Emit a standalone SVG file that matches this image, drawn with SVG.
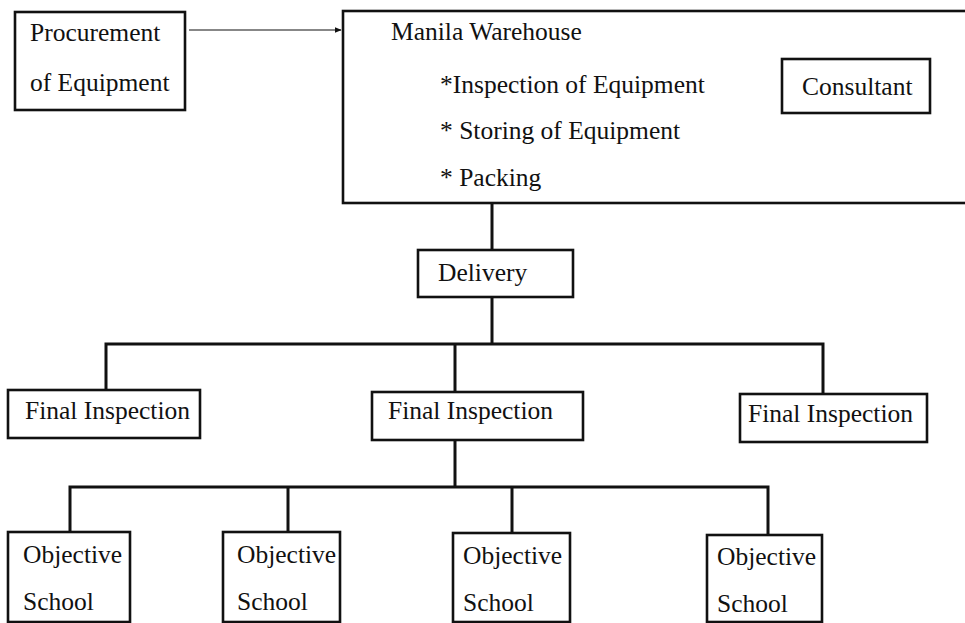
<svg xmlns="http://www.w3.org/2000/svg" width="965" height="623" viewBox="0 0 965 623">
<defs>
<style>
.box{fill:#fff;stroke:#111;stroke-width:2.6}
.t{font-family:"Liberation Serif","Times New Roman",serif;font-size:25.5px;fill:#111}
.c{fill:none;stroke:#111;stroke-width:3}
.a{fill:none;stroke:#111;stroke-width:1.2}
</style>
<marker id="ah" viewBox="0 0 10 10" refX="9" refY="5" markerWidth="7" markerHeight="7" markerUnits="userSpaceOnUse" orient="auto">
<path d="M0,1 L10,5 L0,9 z" fill="#111"/>
</marker>
</defs>
<rect width="965" height="623" fill="#fff"/>
<g id="connectors">
<line class="a" x1="189" y1="30" x2="341" y2="30" marker-end="url(#ah)"/>
<path class="c" d="M492,203 V250"/>
<path class="c" d="M492,297 V344"/>
<path class="c" d="M106,390 V344 H823 V394"/>
<path class="c" d="M455,344 V392"/>
<path class="c" d="M455,440 V487"/>
<path class="c" d="M70,532 V487 H768 V535"/>
<path class="c" d="M288,487 V532"/>
<path class="c" d="M512,487 V533"/>
</g>
<g id="procurement">
<rect class="box" x="15" y="12" width="170" height="98"/>
<text class="t" x="30" y="41">Procurement</text>
<text class="t" x="30" y="91">of Equipment</text>
</g>
<g id="manila-warehouse">
<rect class="box" x="343" y="11" width="630" height="192"/>
<text class="t" x="391" y="40">Manila Warehouse</text>
<text class="t" x="440" y="93">*Inspection of Equipment</text>
<text class="t" x="440" y="139">* Storing of Equipment</text>
<text class="t" x="440" y="186">* Packing</text>
</g>
<g id="consultant">
<rect class="box" x="782" y="59" width="148" height="54"/>
<text class="t" x="802" y="95">Consultant</text>
</g>
<g id="delivery">
<rect class="box" x="418" y="250" width="155" height="47"/>
<text class="t" x="438" y="281">Delivery</text>
</g>
<g id="final-inspection-left">
<rect class="box" x="8" y="390" width="192" height="48"/>
<text class="t" x="25" y="419">Final Inspection</text>
</g>
<g id="final-inspection-mid">
<rect class="box" x="372" y="392" width="211" height="48"/>
<text class="t" x="388" y="419">Final Inspection</text>
</g>
<g id="final-inspection-right">
<rect class="box" x="740" y="394" width="187" height="48"/>
<text class="t" x="748" y="422">Final Inspection</text>
</g>
<g id="school-1">
<rect class="box" x="8" y="532" width="122" height="90"/>
<text class="t" x="23" y="563">Objective</text>
<text class="t" x="23" y="610">School</text>
</g>
<g id="school-2">
<rect class="box" x="223" y="532" width="117" height="90"/>
<text class="t" x="237" y="563">Objective</text>
<text class="t" x="237" y="610">School</text>
</g>
<g id="school-3">
<rect class="box" x="453" y="533" width="117" height="89"/>
<text class="t" x="463" y="564">Objective</text>
<text class="t" x="463" y="611">School</text>
</g>
<g id="school-4">
<rect class="box" x="707" y="535" width="115" height="87"/>
<text class="t" x="717" y="565">Objective</text>
<text class="t" x="717" y="612">School</text>
</g>
</svg>
